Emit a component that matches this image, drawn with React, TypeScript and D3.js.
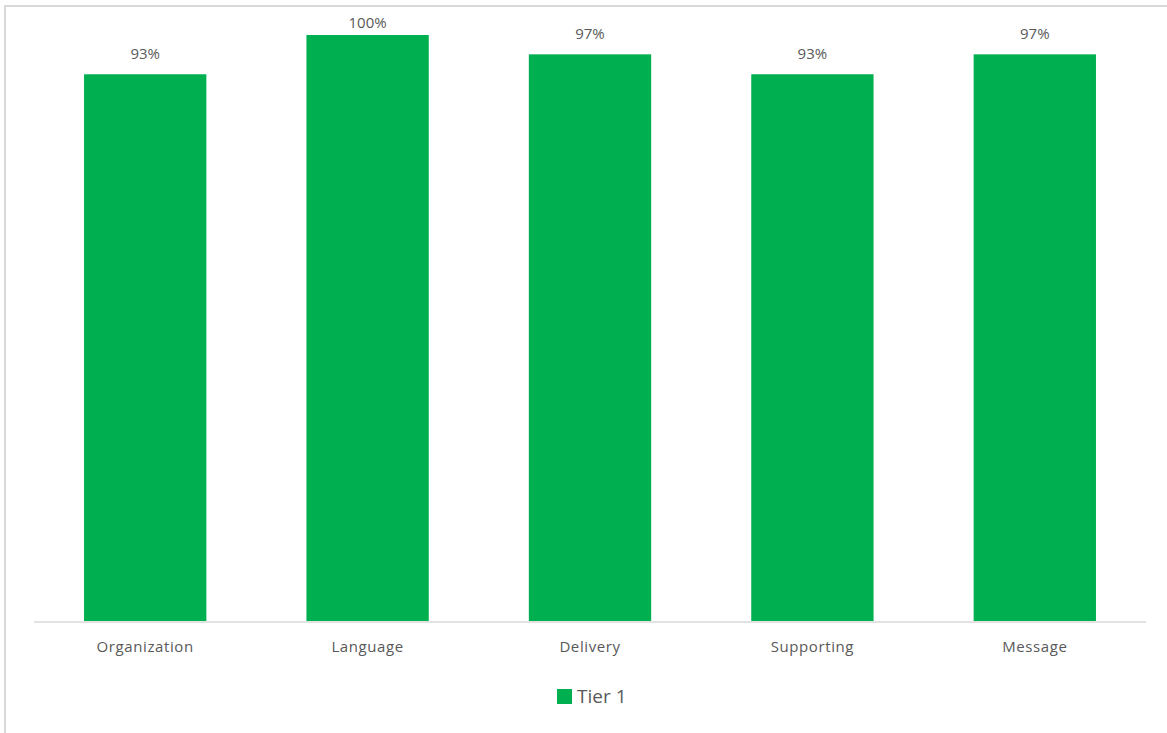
import React from "react";
import * as d3 from "d3";

const categories = ["Organization", "Language", "Delivery", "Supporting", "Message"];
const values = [0.933, 1.0, 0.967, 0.933, 0.967];
const seriesName = "Tier 1";

const W = 1167;
const H = 733;
const left = 34;
const right = 1146;
const baseY = 621;
const topY = 35;
const green = "#00B050";
const textColor = "#595959";
const font = "'Open Sans', 'DejaVu Sans', sans-serif";

export default function App() {
  const x = d3.scaleBand<string>().domain(categories).range([left, right]).paddingInner(0.45).paddingOuter(0.225);
  const y = d3.scaleLinear().domain([0, 1]).range([baseY, topY]);
  const fmt = d3.format(".0%");
  return (
    <svg width={W} height={H} style={{ position: "absolute", left: 0, top: 0, background: "#fff" }}>
      <rect x={5} y={6} width={1300} height={900} fill="#fff" stroke="#d9d9d9" strokeWidth={2} />
      {categories.map((c, i) => (
        <g key={c}>
          <rect x={x(c)} y={y(values[i])} width={x.bandwidth()} height={baseY - y(values[i])} fill={green} />
          <text x={(x(c) as number) + x.bandwidth() / 2} y={Math.max(28, y(values[i]) - 15)} textAnchor="middle" fontFamily={font} fontSize={15} fill={textColor}>
            {fmt(values[i])}
          </text>
          <text x={(x(c) as number) + x.bandwidth() / 2} y={652} textAnchor="middle" fontFamily={font} fontSize={15} fill={textColor} letterSpacing={0.6}>
            {c}
          </text>
        </g>
      ))}
      <line x1={left} x2={right} y1={baseY + 1} y2={baseY + 1} stroke="#d9d9d9" strokeWidth={1.5} />
      <rect x={557} y={689} width={15} height={15} fill={green} />
      <text x={577} y={703} fontFamily={font} fontSize={19} fill={textColor}>{seriesName}</text>
    </svg>
  );
}
